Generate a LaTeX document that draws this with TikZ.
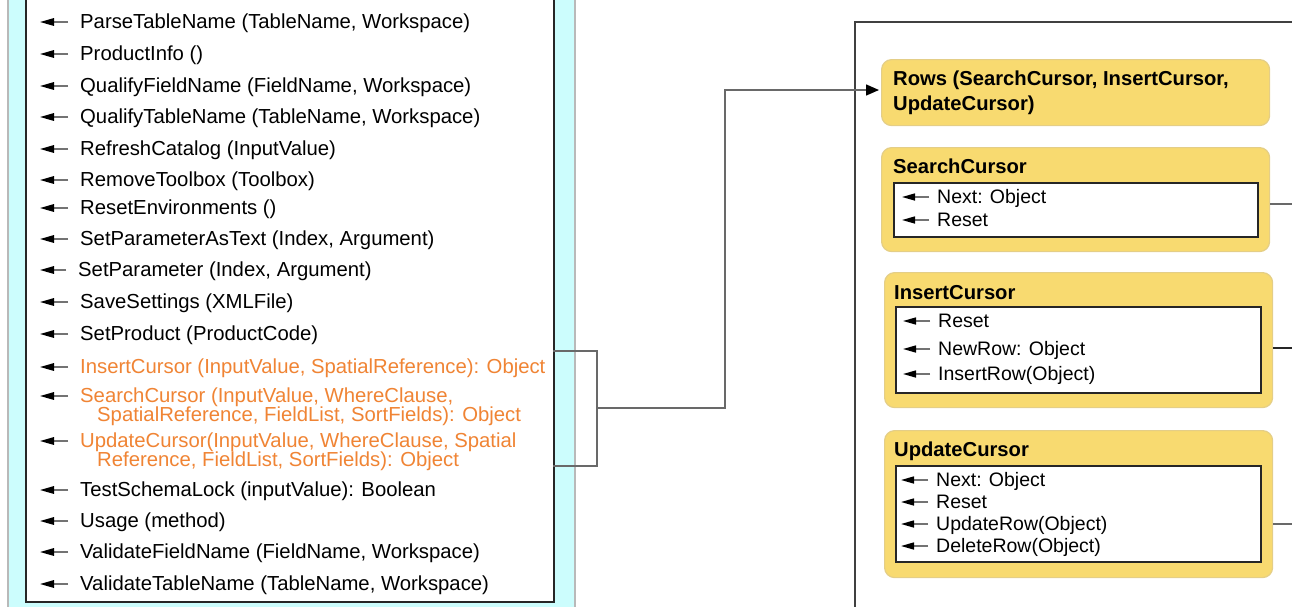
\documentclass[tikz,border=0pt]{standalone}
\usepackage{fontspec}
\setmainfont{Liberation Sans}
\usetikzlibrary{arrows.meta}
\definecolor{cyanbg}{RGB}{204,253,253}
\definecolor{orangeT}{RGB}{240,132,52}
\definecolor{yel}{RGB}{248,218,112}
\definecolor{yelb}{RGB}{228,206,135}
\definecolor{conn}{RGB}{105,105,105}
\newcommand\litem[4][lt]{\node[#1] (#2) at (80,#3) {#4};
  \draw[gl] ([shift={(-12,-6)}]#2.base west) -- ++(-28,0);}
\newcommand\ritem[4]{\node[rt] (#1) at (#2,#3) {#4};
  \draw[gls] ([shift={(-8,-6)}]#1.base west) -- ++(-27,0);}
\newcommand\twolines[2]{\vtop{\baselineskip=19pt\lineskiplimit=-100pt\hbox{#1}\hbox{\hspace*{17pt}#2}}}
\begin{document}
\begin{tikzpicture}[x=1pt,y=-1pt,
  lt/.style={anchor=base west,inner sep=0pt,font=\fontsize{20.3}{24}\selectfont,text=black},
  ot/.style={lt,text=orangeT},
  rt/.style={anchor=base west,inner sep=0pt,font=\fontsize{19.5}{23}\selectfont,text=black},
  tt/.style={anchor=base west,inner sep=0pt,font=\fontsize{20.2}{25}\selectfont\bfseries,text=black},
  gl/.style={line width=1.6pt,black!55,-{Triangle[length=14pt,width=7.5pt,fill=black,color=black]}},
  gls/.style={line width=1.5pt,black!55,-{Triangle[length=13pt,width=7pt,fill=black,color=black]}},
  ybox/.style={draw=yelb,fill=yel,line width=1.2pt,rounded corners=10pt,anchor=north west,inner sep=0pt},
  wbox/.style={draw=black!85,fill=white,line width=1.5pt,anchor=north west,inner sep=0pt},
  conn/.style={draw=conn,line width=1.4pt}]
\useasboundingbox (0,0) rectangle (1292,606);
% left panel
\fill[cyanbg] (8,-2) rectangle (575,608);
\draw[gray!55,line width=1.2pt] (8,-2) -- (8,608) (575,-2) -- (575,608);
\node[wbox,minimum width=528,minimum height=611] (lbox) at (25,-10) {};
\litem{m1}{28}{ParseTableName (TableName, Workspace)}
\litem{m2}{60}{ProductInfo ()}
\litem{m3}{92}{QualifyFieldName (FieldName, Workspace)}
\litem{m4}{123}{QualifyTableName (TableName, Workspace)}
\litem{m5}{155}{RefreshCatalog (InputValue)}
\litem{m6}{186}{RemoveToolbox (Toolbox)}
\litem{m7}{214}{ResetEnvironments ()}
\litem{m8}{245}{SetParameterAsText (Index, Argument)}
\node[lt] (m9) at (78,276) {SetParameter (Index, Argument)};
\draw[gl] ([shift={(-12,-6)}]m9.base west) -- ++(-26,0);
\litem{m10}{308}{SaveSettings (XMLFile)}
\litem{m11}{340}{SetProduct (ProductCode)}
\litem[ot]{m12}{373}{InsertCursor (InputValue, SpatialReference): Object}
\litem[ot]{m13}{402}{\twolines{SearchCursor (InputValue, WhereClause,}{SpatialReference, FieldList, SortFields): Object}}
\litem[ot]{m14}{447}{\twolines{UpdateCursor(InputValue, WhereClause, Spatial}{Reference, FieldList, SortFields): Object}}
\litem{m15}{496}{TestSchemaLock (inputValue): Boolean}
\litem{m16}{527}{Usage (method)}
\litem{m17}{558}{ValidateFieldName (FieldName, Workspace)}
\litem{m18}{590}{ValidateTableName (TableName, Workspace)}
% right frame
\coordinate (f1) at (855,612);
\coordinate (f2) at (855,22);
\coordinate (f3) at (1300,22);
\draw[line width=1.5pt,black!75] (f1) -- (f2) -- (f3);
% yellow boxes
\node[ybox,minimum width=388,minimum height=66] (rows) at (881,59) {};
\node[tt] (rowsT) at (893,85) {Rows (SearchCursor, InsertCursor,};
\node[tt] (rowsT2) at (893,110) {UpdateCursor)};
\node[ybox,minimum width=388,minimum height=104] (sc) at (881,147) {};
\node[tt] (scT) at (893,173) {SearchCursor};
\node[wbox,minimum width=364,minimum height=54] (scI) at (893,182) {};
\ritem{sc1}{937}{203}{Next: Object}
\ritem{sc2}{937}{226}{Reset}
\node[ybox,minimum width=388,minimum height=135] (ic) at (884,272) {};
\node[tt] (icT) at (894,299) {InsertCursor};
\node[wbox,minimum width=365,minimum height=86] (icI) at (895,306) {};
\ritem{ic1}{938}{327}{Reset}
\ritem{ic2}{938}{355}{NewRow: Object}
\ritem{ic3}{938}{380}{InsertRow(Object)}
\node[ybox,minimum width=388,minimum height=147] (uc) at (884,430) {};
\node[tt] (ucT) at (894,456) {UpdateCursor};
\node[wbox,minimum width=365,minimum height=96] (ucI) at (895,465) {};
\ritem{u1}{936}{486}{Next: Object}
\ritem{u2}{936}{508}{Reset}
\ritem{u3}{936}{530}{UpdateRow(Object)}
\ritem{u4}{936}{552}{DeleteRow(Object)}
% stubs
\coordinate (s1) at (1300,204);
\coordinate (s2) at (1300,348);
\coordinate (s3) at (1300,524);
\draw[conn] (sc.east |- s1) -- (s1);
\draw[line width=1.4pt,black!85] (ic.east |- s2) -- (s2);
\draw[conn] (uc.east |- s3) -- (s3);
% bracket connector
\coordinate (b1) at (553,351);
\coordinate (b2) at (553,466);
\coordinate (bt) at (597,351);
\coordinate (bb) at (597,466);
\coordinate (bm) at (597,408);
\coordinate (bk) at (725,408);
\coordinate (rin) at (879,90);
\draw[conn] (b1) -- (bt) -- (bb) -- (b2);
\draw[conn,-{Triangle[length=13pt,width=11pt,fill=black,color=black]}] (bm) -- (bk) |- (rin);
\end{tikzpicture}
\end{document}
